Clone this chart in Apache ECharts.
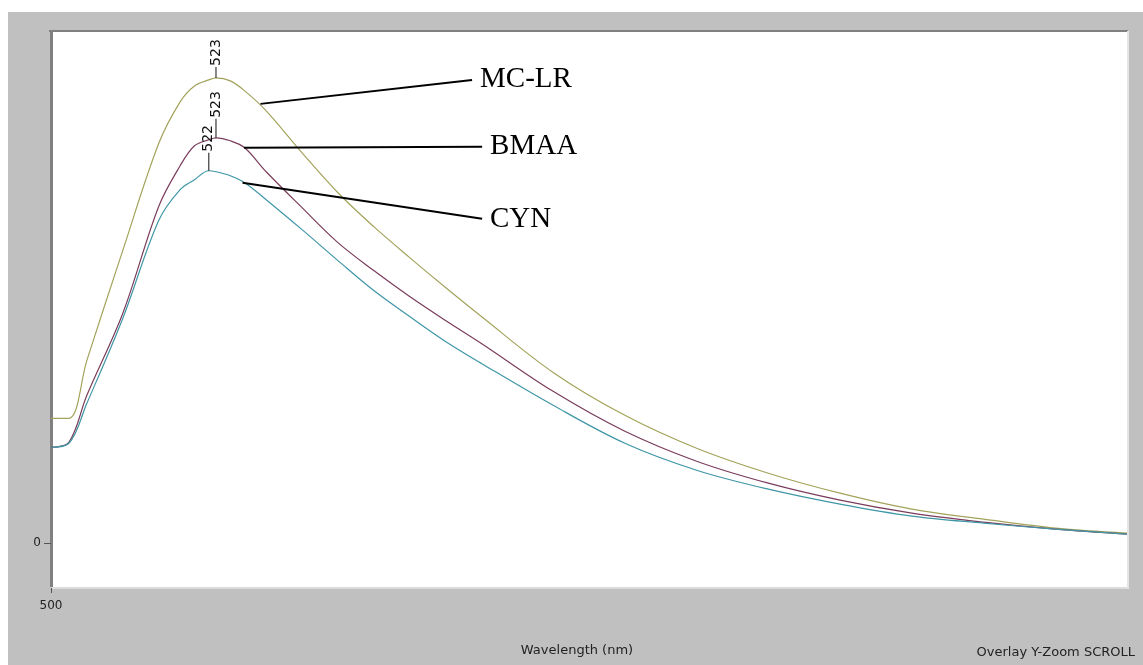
<!DOCTYPE html>
<html>
<head>
<meta charset="utf-8">
<title>Fluorescence spectra</title>
<script src="https://cdn.jsdelivr.net/npm/echarts@6/dist/echarts.min.js"></script>
<style>
  html, body { margin: 0; padding: 0; background: #fff; }
  #chart { width: 1143px; height: 665px; }
</style>
</head>
<body>
<div id="chart"></div>
<script>
// wavelength (nm) and intensities
var wavelengths = [500, 502.5, 505, 510, 515, 518, 520, 522, 523, 525, 527, 530, 535, 540, 545, 550, 555, 560, 570, 580, 590, 600, 610, 620, 630, 640, 650];
var mcLR = [125, 125, 183, 293, 400, 442, 458, 464, 466, 463, 453, 433, 391, 351, 317, 286, 256, 227, 171, 128, 95, 70, 50, 34, 24, 15, 10];
var bmaa = [96, 101, 148, 230, 337, 378, 398, 404, 406, 403, 396, 372, 336, 301, 273, 247, 223, 200, 152, 112, 82, 60, 43, 30, 21, 14, 9];
var cyn = [96, 100, 140, 225, 323, 354, 364, 373, 372, 368, 361, 344, 314, 283, 253, 227, 202, 180, 138, 100, 73, 54, 39, 27, 20, 14, 9];

var seriesNames = ['MC-LR', 'BMAA', 'CYN'];
var peakNm = [523, 523, 522];
var xTicks = [500];
var yTicks = [0];

var chart = echarts.init(document.getElementById('chart'));

function pairs(values) {
  return wavelengths.map(function (w, i) { return [w, values[i]]; });
}

function peakPoint(values, nm, tickLen) {
  var v = values[wavelengths.indexOf(nm)];
  return {
    symbol: 'rect',
    symbolSize: [1, tickLen],
    symbolOffset: [0, -tickLen / 2],
    itemStyle: { color: '#111' },
    data: [{ coord: [nm, v] }],
    label: {
      show: true,
      formatter: String(nm),
      position: 'top',
      rotate: 90,
      align: 'left',
      verticalAlign: 'middle',
      distance: 1,
      color: '#111',
      fontFamily: 'DejaVu Sans',
      fontSize: 14
    }
  };
}

// leader line from a curve to its name
function leader(name, from, to) {
  return {
    silent: true,
    symbol: ['none', 'none'],
    animation: false,
    lineStyle: { color: '#000', width: 2, type: 'solid' },
    label: {
      show: true,
      position: 'end',
      formatter: name,
      distance: 8,
      padding: [10, 0, 0, 0],
      color: '#000',
      fontFamily: 'Liberation Serif',
      fontSize: 29
    },
    data: [[{ coord: from }, { coord: to }]]
  };
}

var option = {
  animation: false,
  backgroundColor: '#fff',
  title: {
    text: 'Overlay Y-Zoom SCROLL',
    right: 3,
    bottom: 1,
    textStyle: { fontFamily: 'DejaVu Sans', fontSize: 13, fontWeight: 'normal', color: '#222' }
  },
  graphic: [
    { type: 'rect', z: -10, shape: { x: 8, y: 12, width: 1135, height: 653 }, style: { fill: '#c0c0c0' } },
    { type: 'line', z: 10, shape: { x1: 49, y1: 31, x2: 1128, y2: 31 }, style: { stroke: '#808080', lineWidth: 2 } },
    { type: 'line', z: 10, shape: { x1: 1128, y1: 31, x2: 1128, y2: 589 }, style: { stroke: '#e4e4e4', lineWidth: 2 } }
  ],
  grid: {
    left: 51, top: 32, right: 16, bottom: 77,
    show: true, backgroundColor: '#fff', borderWidth: 0
  },
  xAxis: {
    type: 'value',
    min: 500,
    max: 650,
    name: 'Wavelength (nm)',
    nameLocation: 'middle',
    nameGap: 56,
    nameTextStyle: { fontFamily: 'DejaVu Sans', fontSize: 13, color: '#222', padding: [0, 24, 0, 0] },
    axisLine: { onZero: false, lineStyle: { color: '#dcdcdc', width: 2 } },
    axisTick: { customValues: xTicks, length: 5, lineStyle: { color: '#555' } },
    axisLabel: { customValues: xTicks, color: '#222', fontFamily: 'DejaVu Sans', fontSize: 12, margin: 12 },
    splitLine: { show: false }
  },
  yAxis: {
    type: 'value',
    min: -45,
    max: 512,
    axisLine: { show: true, onZero: false, lineStyle: { color: '#808080', width: 3 } },
    axisTick: { show: true, customValues: yTicks, length: 7, lineStyle: { color: '#555' } },
    axisLabel: { customValues: yTicks, color: '#222', fontFamily: 'DejaVu Sans', fontSize: 12, margin: 10 },
    splitLine: { show: false }
  },
  series: [
    {
      name: seriesNames[0], type: 'line', data: pairs(mcLR), symbol: 'none', smooth: 0.35,
      lineStyle: { color: '#a3a35c', width: 1.2 },
      markPoint: peakPoint(mcLR, peakNm[0], 11),
      markLine: leader(seriesNames[0], [529.2, 440], [558.7, 464])
    },
    {
      name: seriesNames[1], type: 'line', data: pairs(bmaa), symbol: 'none', smooth: 0.35,
      lineStyle: { color: '#7a3d5c', width: 1.2 },
      markPoint: peakPoint(bmaa, peakNm[1], 19),
      markLine: leader(seriesNames[1], [526.9, 396], [560.1, 397])
    },
    {
      name: seriesNames[2], type: 'line', data: pairs(cyn), symbol: 'none', smooth: 0.35,
      lineStyle: { color: '#3f96a6', width: 1.2 },
      markPoint: peakPoint(cyn, peakNm[2], 18),
      markLine: leader(seriesNames[2], [526.7, 361], [560.1, 325])
    }
  ]
};

chart.setOption(option);
</script>
</body>
</html>
